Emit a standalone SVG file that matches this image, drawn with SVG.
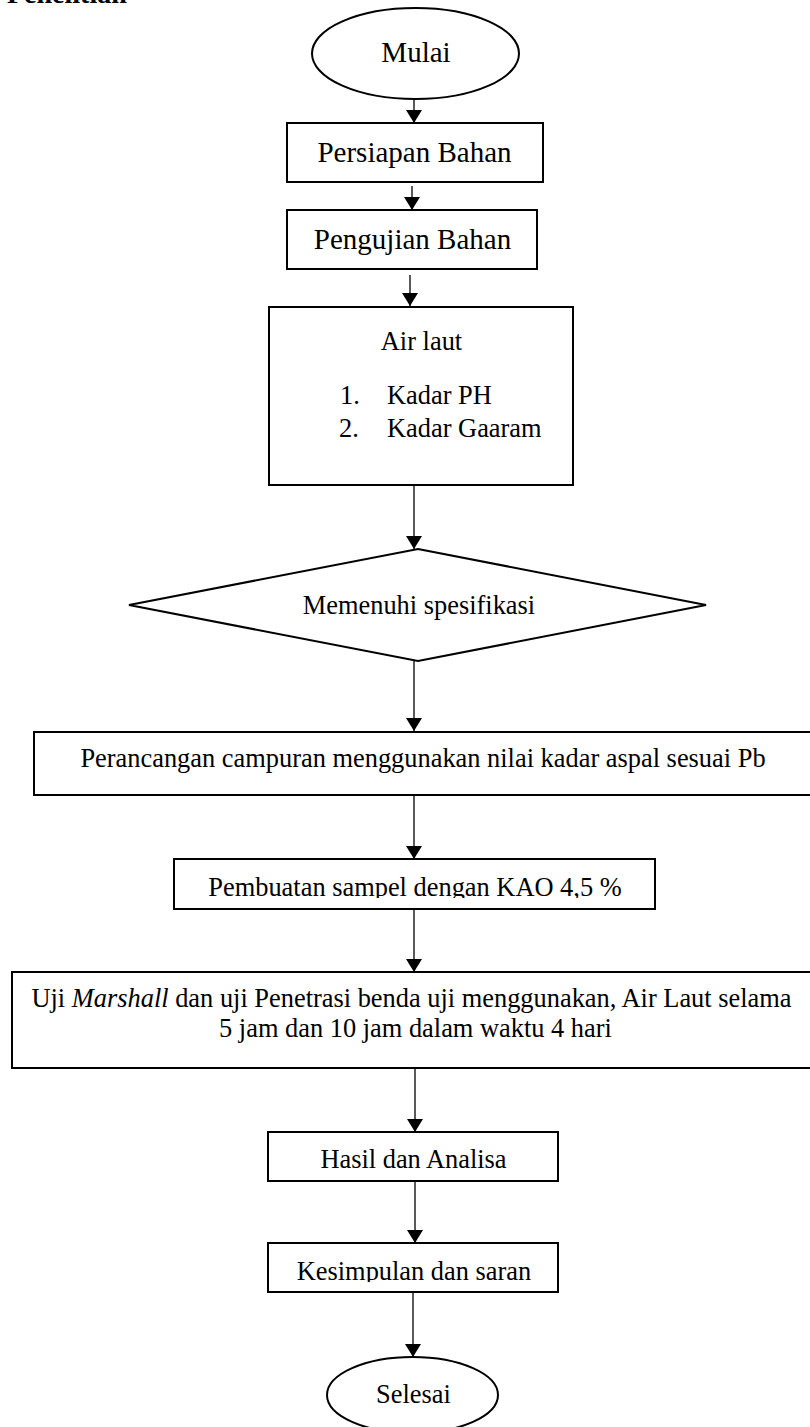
<svg xmlns="http://www.w3.org/2000/svg" width="810" height="1427" viewBox="0 0 810 1427">
<style>
  text { font-family: "Liberation Serif", "Times New Roman", serif; fill: #000; }
  .t29 { font-size: 29px; }
  .t26 { font-size: 26.4px; }
  .mid { text-anchor: middle; }
  .box { fill: #fff; stroke: #000; stroke-width: 2; }
  .conn { stroke: #000; stroke-width: 1.3; fill: none; marker-end: url(#arrow); }
  .title { font-size: 28px; font-weight: bold; }
</style>
<defs>
  <marker id="arrow" markerUnits="userSpaceOnUse" markerWidth="13" markerHeight="16" viewBox="0 0 13 16" refX="13" refY="8" orient="auto">
    <path d="M0,0 L13,8 L0,16 Z" fill="#000"/>
  </marker>
  <clipPath id="clipPembuatan"><rect x="175" y="860" width="480" height="38"/></clipPath>
  <clipPath id="clipKesimpulan"><rect x="269" y="1244" width="288" height="38"/></clipPath>
</defs>
<rect x="0" y="0" width="810" height="1427" fill="#fff"/>

<text class="title" x="7" y="2.5">Penelitian</text>

<g id="connectors">
  <line class="conn" x1="414" y1="99" x2="414" y2="123"/>
  <line class="conn" x1="412" y1="186" x2="412" y2="210"/>
  <line class="conn" x1="410" y1="275" x2="410" y2="306"/>
  <line class="conn" x1="414" y1="485" x2="414" y2="549"/>
  <line class="conn" x1="414" y1="661" x2="414" y2="731"/>
  <line class="conn" x1="414" y1="796" x2="414" y2="859"/>
  <line class="conn" x1="414" y1="909" x2="414" y2="972"/>
  <line class="conn" x1="415" y1="1068" x2="415" y2="1132"/>
  <line class="conn" x1="415" y1="1181" x2="415" y2="1243"/>
  <line class="conn" x1="413" y1="1292" x2="413" y2="1357"/>
</g>

<g id="node-mulai">
  <ellipse class="box" cx="415.5" cy="53.5" rx="103.5" ry="45.5"/>
  <text class="t29 mid" x="416" y="62">Mulai</text>
</g>

<g id="node-persiapan">
  <rect class="box" x="287" y="123" width="256" height="59"/>
  <text class="t29 mid" x="414.5" y="162">Persiapan Bahan</text>
</g>

<g id="node-pengujian">
  <rect class="box" x="287" y="210" width="250" height="59"/>
  <text class="t29 mid" x="412.5" y="249">Pengujian Bahan</text>
</g>

<g id="node-airlaut">
  <rect class="box" x="269" y="307" width="304" height="178"/>
  <text class="t26 mid" x="421.5" y="350">Air laut</text>
  <text class="t26" x="340" y="404">1.</text>
  <text class="t26" x="387" y="404">Kadar PH</text>
  <text class="t26" x="339" y="437">2.</text>
  <text class="t26" x="387" y="437">Kadar Gaaram</text>
</g>

<g id="node-spesifikasi">
  <polygon class="box" points="418,549 706,605 418,661 129,605"/>
  <text class="t26 mid" x="419" y="614">Memenuhi spesifikasi</text>
</g>

<g id="node-perancangan">
  <rect class="box" x="34" y="732" width="800" height="63"/>
  <text class="t26 mid" x="423" y="767">Perancangan campuran menggunakan nilai kadar aspal sesuai Pb</text>
</g>

<g id="node-pembuatan">
  <rect class="box" x="174" y="859" width="481" height="50"/>
  <text class="t26 mid" x="415" y="896" clip-path="url(#clipPembuatan)">Pembuatan sampel dengan KAO 4,5 %</text>
</g>

<g id="node-uji">
  <rect class="box" x="12" y="972" width="820" height="96"/>
  <text class="t26 mid" x="411.5" y="1007">Uji <tspan font-style="italic">Marshall</tspan> dan uji Penetrasi benda uji menggunakan, Air Laut selama</text>
  <text class="t26 mid" x="415.5" y="1037">5 jam dan 10 jam dalam waktu 4 hari</text>
</g>

<g id="node-hasil">
  <rect class="box" x="268" y="1132" width="290" height="49"/>
  <text class="t26 mid" x="413.5" y="1168">Hasil dan Analisa</text>
</g>

<g id="node-kesimpulan">
  <rect class="box" x="268" y="1243" width="290" height="49"/>
  <text class="t26 mid" x="414" y="1280" clip-path="url(#clipKesimpulan)">Kesimpulan dan saran</text>
</g>

<g id="node-selesai">
  <ellipse class="box" cx="412.5" cy="1395" rx="85.5" ry="38"/>
  <text class="t26 mid" x="413.5" y="1403">Selesai</text>
</g>
</svg>
